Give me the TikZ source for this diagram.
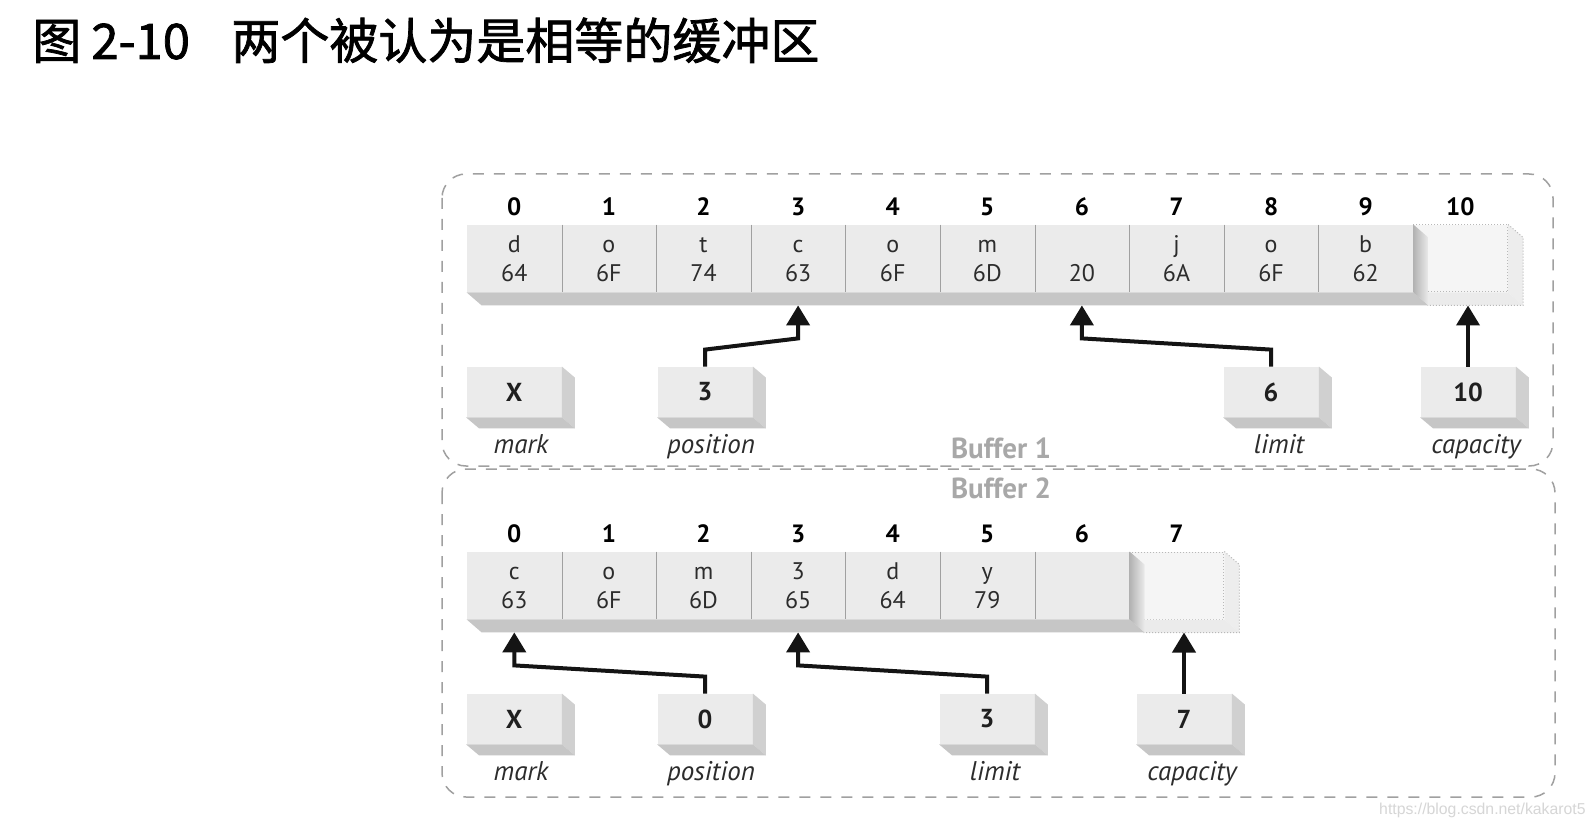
\documentclass[tikz,border=0pt]{standalone}
\usepackage{fontspec}
\setmainfont{PT Sans}
\newfontfamily\cjk{Noto Sans CJK SC}[FakeBold=1.5]
\newfontfamily\wmfont{Liberation Sans}
\usetikzlibrary{arrows.meta,calc}
\definecolor{facegray}{HTML}{EBEBEB}
\definecolor{slabgray}{HTML}{C6C6C6}
\definecolor{sidegray}{HTML}{D0D0D0}
\definecolor{divgray}{HTML}{A0A0A0}
\definecolor{bordergray}{HTML}{A0A0A0}
\definecolor{buflabel}{HTML}{A8A8A8}
\definecolor{celltext}{HTML}{2C2C2C}
\definecolor{wmgray}{HTML}{D6D6D6}
\definecolor{dotface}{HTML}{F5F5F5}
\definecolor{dotedge}{HTML}{B8B8B8}
\newcommand\boxsides[1]{%
  \fill[sidegray] (#1.north east) -- ++(13,11) -- ($(#1.south east)+(13,11)$) -- (#1.south east) -- cycle;
  \fill[slabgray] (#1.south west) -- (#1.south east) -- ($(#1.south east)+(13,11)$) -- ($(#1.south west)+(13,11)$) -- cycle;}
\begin{document}
\begin{tikzpicture}[x=0.5pt,y=-0.5pt,
  cell/.style={fill=facegray, draw=none, minimum width=47.3pt, minimum height=33.5pt,
    inner sep=0pt, align=center, font=\fontsize{12}{14.5}\selectfont, text=celltext},
  dotcell/.style={fill=dotface, draw=dotedge, densely dotted, line width=0.5pt,
    minimum width=47.3pt, minimum height=33.5pt, inner sep=0pt},
  idx/.style={inner sep=0pt, font=\bfseries\fontsize{12.5}{14}\selectfont, text=black},
  ptrbox/.style={fill=facegray, draw=none, minimum width=47.5pt, minimum height=25pt,
    inner sep=0pt, font=\bfseries\fontsize{13}{15}\selectfont, text=black!88},
  lbl/.style={inner sep=0pt, anchor=base, font=\itshape\fontsize{13.5}{15}\selectfont, text=celltext},
  buf/.style={inner sep=0pt, font=\bfseries\fontsize{14.5}{16}\selectfont, text=buflabel},
  divider/.style={draw=divgray, line width=0.5pt},
  border/.style={draw=bordergray, line width=0.75pt, dash pattern=on 5.5pt off 5pt, rounded corners=12pt},
  ptr/.style={draw=black!92, line width=2pt, -{Triangle[width=11.5pt,length=10pt]}},
  ttl/.style={inner sep=0pt, anchor=base west, font=\cjk\fontsize{24.5}{26}\selectfont, text=black}]
\useasboundingbox (0,0) rectangle (1594,828);
\fill[white] (0,0) rectangle (1594,828);

% title
\node[ttl] (t1) at (32,59) {图};
\node[ttl] (t2) at (91,59) {2-10};
\node[ttl] (t3) at (231,59) {两个被认为是相等的缓冲区};

% borders
\draw[border] (442,174) rectangle (1553,466);
\draw[border] (442,469) rectangle (1555,797);

% ---------- Buffer 1 ----------
\node[dotcell] (a10) at ({467+94.6*10.5},258.5) {};
\fill[dotface!92!black!60!white] (a10.north east) -- ++(15,13) -- ($(a10.south east)+(15,13)$) -- (a10.south east) -- cycle;
\fill[facegray] (a10.south west) -- (a10.south east) -- ($(a10.south east)+(15,13)$) -- ($(a10.south west)+(15,13)$) -- cycle;
\draw[dotedge, densely dotted, line width=0.5pt] (a10.north east) -- ++(15,13) -- ($(a10.south east)+(15,13)$) -- ($(a10.south west)+(15,13)$);
\foreach \i/\c/\h in {0/d/64,1/o/6F,2/t/74,3/c/63,4/o/6F,5/m/6D,6//20,7/j/6A,8/o/6F,9/b/62}
  \node[cell] (a\i) at ({467+94.6*(\i+0.5)},258.5) {\vphantom{d}\c\\\h};
\foreach \i in {0,...,8} \draw[divider] (a\i.north east) -- (a\i.south east);
\fill[slabgray] (a0.south west) -- (a9.south east) -- ($(a9.south east)+(15,13)$) -- ($(a0.south west)+(15,13)$) -- cycle;
\shade[left color=slabgray!90!black, right color=facegray] (a9.north east) -- ++(15,13) -- ($(a9.south east)+(15,13)$) -- (a9.south east) -- cycle;
\foreach \i in {0,...,10} \node[idx] at ($(a\i.north)+(0,-18)$) {\i};

\node[ptrbox] (m1) at (514,392) {X};
\node[ptrbox] (p1) at (705,392) {3};
\node[ptrbox] (l1) at (1271,392) {6};
\node[ptrbox] (k1) at (1468,392) {10};
\foreach \b in {m1,p1,l1,k1} {\boxsides{\b}}
\node[lbl] at ($(m1.south)+(7,36)$) {mark};
\node[lbl] at ($(p1.south)+(6,36)$) {position};
\node[lbl] at ($(l1.south)+(8,36)$) {limit};
\node[lbl] at ($(k1.south)+(8,36)$) {capacity};

\coordinate (a10t) at ($(a10.south)+(0,13)$);
\draw[ptr] (p1.north) -- ++(0,-17) -- ($(a3.south)+(0,46)$) -- ($(a3.south)+(0,13)$);
\draw[ptr] (l1.north) -- ++(0,-17) -- ($(a6.south)+(0,46)$) -- ($(a6.south)+(0,13)$);
\draw[ptr] (k1.north) -- (k1.north |- a10t);

\node[buf] (buf1) at (1001,448) {Buffer 1};
\node[buf] (buf2) at (1001,488) {Buffer 2};

% ---------- Buffer 2 ----------
\node[dotcell] (b7) at ({467+94.6*7.5},585.5) {};
\fill[dotface!92!black!60!white] (b7.north east) -- ++(15,13) -- ($(b7.south east)+(15,13)$) -- (b7.south east) -- cycle;
\fill[facegray] (b7.south west) -- (b7.south east) -- ($(b7.south east)+(15,13)$) -- ($(b7.south west)+(15,13)$) -- cycle;
\draw[dotedge, densely dotted, line width=0.5pt] (b7.north east) -- ++(15,13) -- ($(b7.south east)+(15,13)$) -- ($(b7.south west)+(15,13)$);
\foreach \i/\c/\h in {0/c/63,1/o/6F,2/m/6D,3/3/65,4/d/64,5/y/79,6//}
  \node[cell] (b\i) at ({467+94.6*(\i+0.5)},585.5) {\vphantom{d}\c\\\h};
\foreach \i in {0,...,5} \draw[divider] (b\i.north east) -- (b\i.south east);
\fill[slabgray] (b0.south west) -- (b6.south east) -- ($(b6.south east)+(15,13)$) -- ($(b0.south west)+(15,13)$) -- cycle;
\shade[left color=slabgray!90!black, right color=facegray] (b6.north east) -- ++(15,13) -- ($(b6.south east)+(15,13)$) -- (b6.south east) -- cycle;
\foreach \i in {0,...,7} \node[idx] at ($(b\i.north)+(0,-18)$) {\i};

\node[ptrbox] (m2) at (514,719) {X};
\node[ptrbox] (p2) at (705,719) {0};
\node[ptrbox] (l2) at (987,719) {3};
\node[ptrbox] (k2) at (1184,719) {7};
\foreach \b in {m2,p2,l2,k2} {\boxsides{\b}}
\node[lbl] at ($(m2.south)+(7,36)$) {mark};
\node[lbl] at ($(p2.south)+(6,36)$) {position};
\node[lbl] at ($(l2.south)+(8,36)$) {limit};
\node[lbl] at ($(k2.south)+(8,36)$) {capacity};

\coordinate (b7t) at ($(b7.south)+(0,13)$);
\draw[ptr] (p2.north) -- ++(0,-17) -- ($(b0.south)+(0,46)$) -- ($(b0.south)+(0,13)$);
\draw[ptr] (l2.north) -- ++(0,-17) -- ($(b3.south)+(0,46)$) -- ($(b3.south)+(0,13)$);
\draw[ptr] (k2.north) -- (k2.north |- b7t);

% watermark
\node[inner sep=0pt, anchor=east, text=wmgray, font=\wmfont\fontsize{7.9}{9}\selectfont] (wm) at (1586,810) {https://blog.csdn.net/kakarot5};
\end{tikzpicture}
\end{document}
